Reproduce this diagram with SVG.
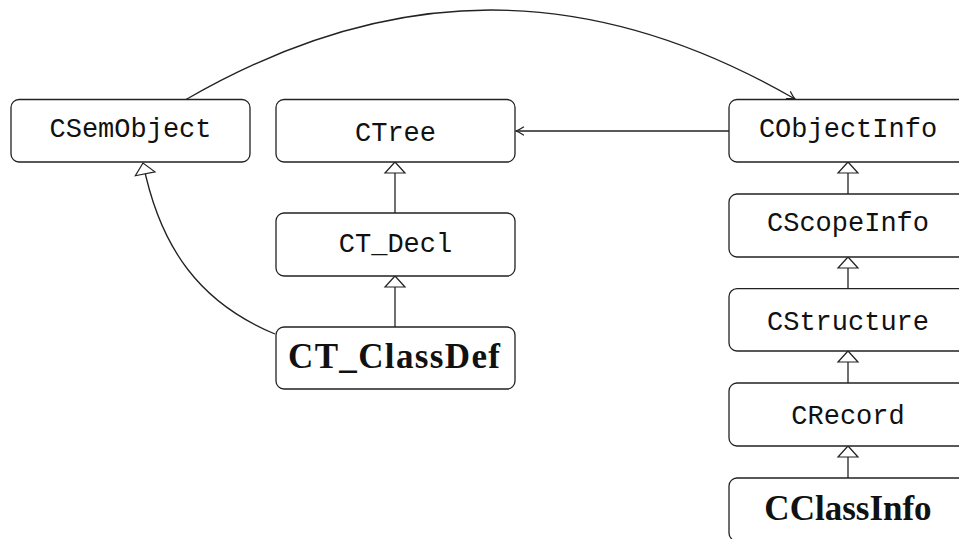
<svg xmlns="http://www.w3.org/2000/svg" width="959" height="539" viewBox="0 0 959 539">
  <style>
    .box { fill: #ffffff; stroke: #222222; stroke-width: 1.3; }
    .tt { font-family: "Liberation Mono", "DejaVu Sans Mono", monospace; font-size: 27px; fill: #111111; text-anchor: middle; }
    .bf { font-family: "Liberation Serif", "DejaVu Serif", serif; font-weight: bold; font-size: 35px; fill: #111111; text-anchor: middle; }
    .edge { fill: none; stroke: #222222; stroke-width: 1.3; }
  </style>
  <defs>
    <!-- hollow triangle: inheritance -->
    <marker id="inherit" markerUnits="userSpaceOnUse" viewBox="-13 -12 15 24" markerWidth="15" markerHeight="24" refX="0" refY="0" orient="auto" overflow="visible">
      <path d="M0,0 L-11,-10 L-11,10 Z" fill="#ffffff" stroke="#222222" stroke-width="1.2" stroke-linejoin="miter"/>
    </marker>
    <!-- small open arrow: association -->
    <marker id="assoc" markerUnits="userSpaceOnUse" viewBox="-10 -6 12 12" markerWidth="12" markerHeight="12" refX="0" refY="0" orient="auto" overflow="visible">
      <path d="M-7.5,-4 Q-3,-1 0,0 Q-3,1 -7.5,4" fill="none" stroke="#222222" stroke-width="1.3" stroke-linecap="round"/>
    </marker>
  </defs>

  <rect width="959" height="539" fill="#ffffff"/>

  <g id="connectors">
    <!-- CSemObject to CObjectInfo (arc over the top) -->
    <path class="edge" d="M186,99.5 C392,-19.5 589,-20 795,99" marker-end="url(#assoc)"/>
    <!-- CObjectInfo to CTree -->
    <path class="edge" d="M729,131 H516" marker-end="url(#assoc)"/>
    <!-- CT_ClassDef inherits CSemObject -->
    <path class="edge" d="M275,334 C200,303 160,248 143,163" marker-end="url(#inherit)"/>
    <!-- left column -->
    <path class="edge" d="M395,213 V162" marker-end="url(#inherit)"/>
    <path class="edge" d="M395,327 V276" marker-end="url(#inherit)"/>
    <!-- right column -->
    <path class="edge" d="M848,194 V162" marker-end="url(#inherit)"/>
    <path class="edge" d="M848,288.7 V257" marker-end="url(#inherit)"/>
    <path class="edge" d="M848,383 V351" marker-end="url(#inherit)"/>
    <path class="edge" d="M848,478 V446" marker-end="url(#inherit)"/>
  </g>

  <g id="CSemObject">
    <rect class="box" x="11" y="99.5" width="239" height="62.5" rx="8"/>
    <text class="tt" x="130.5" y="136.7">CSemObject</text>
  </g>
  <g id="CTree">
    <rect class="box" x="276" y="99.5" width="239" height="62.5" rx="8"/>
    <text class="tt" x="395.5" y="141">CTree</text>
  </g>
  <g id="CT_Decl">
    <rect class="box" x="276" y="213" width="239" height="63" rx="8"/>
    <text class="tt" x="395.5" y="251.5">CT_Decl</text>
  </g>
  <g id="CT_ClassDef">
    <rect class="box" x="276" y="327" width="239" height="62" rx="8"/>
    <text class="bf" x="394" y="368" textLength="212" lengthAdjust="spacing">CT_ClassDef</text>
  </g>
  <g id="CObjectInfo">
    <rect class="box" x="729" y="99.5" width="239" height="62.5" rx="8"/>
    <text class="tt" x="848" y="136.5">CObjectInfo</text>
  </g>
  <g id="CScopeInfo">
    <rect class="box" x="729" y="194" width="239" height="63" rx="8"/>
    <text class="tt" x="848" y="231">CScopeInfo</text>
  </g>
  <g id="CStructure">
    <rect class="box" x="729" y="288.7" width="239" height="62.3" rx="8"/>
    <text class="tt" x="848" y="329.5">CStructure</text>
  </g>
  <g id="CRecord">
    <rect class="box" x="729" y="383" width="239" height="63" rx="8"/>
    <text class="tt" x="848" y="424">CRecord</text>
  </g>
  <g id="CClassInfo">
    <rect class="box" x="729" y="478" width="239" height="63" rx="8"/>
    <text class="bf" x="848" y="520">CClassInfo</text>
  </g>
</svg>
